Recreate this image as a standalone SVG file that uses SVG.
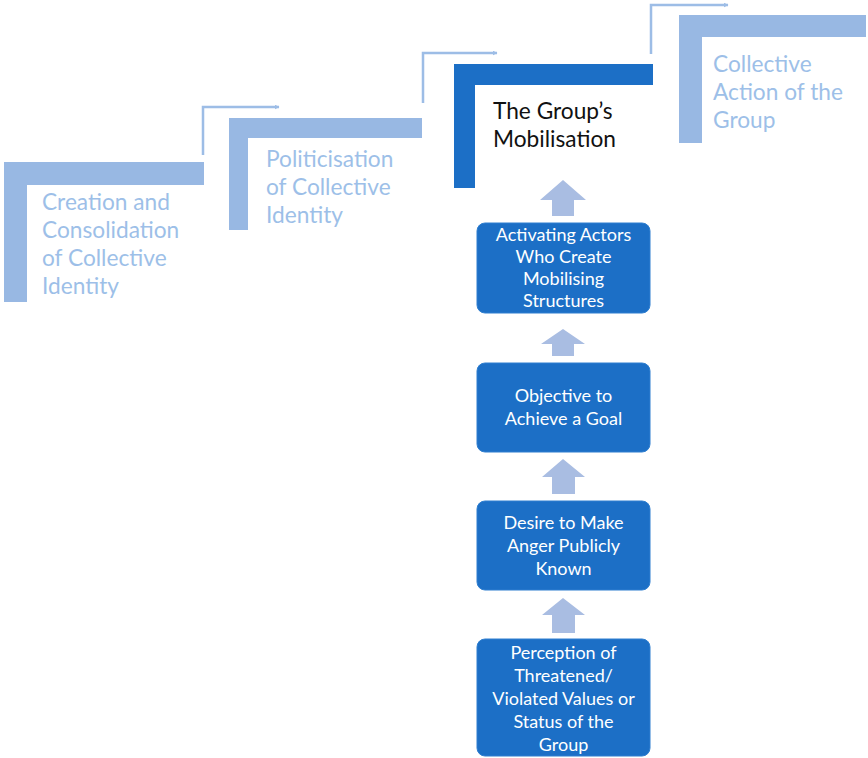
<svg xmlns="http://www.w3.org/2000/svg" width="868" height="758" viewBox="0 0 868 758">
  <defs>
    <marker id="head" viewBox="0 0 10 10" refX="9" refY="5" markerWidth="5" markerHeight="5" markerUnits="userSpaceOnUse" orient="auto">
      <path d="M0,0 L10,5 L0,10 Z" fill="#9dbde6"/>
    </marker>
  </defs>
  <style>
    .step { fill: #98b8e3; }
    .stepDark { fill: #1c6fc6; }
    .stepText { font-family: Lato, "Liberation Sans", sans-serif; font-size: 22.7px; fill: #9dbfe8; }
    .darkText { font-family: Lato, "Liberation Sans", sans-serif; font-size: 22.7px; fill: #111111; }
    .box { fill: #1c6fc6; stroke: #2f7fd0; stroke-width: 1; }
    .boxText { font-family: Lato, "Liberation Sans", sans-serif; font-size: 18px; fill: #ffffff; text-anchor: middle; }
    .link { fill: none; stroke: #9dbde6; stroke-width: 2.5; marker-end: url(#head); }
    .up { fill: #a9bde2; }
  </style>
  <rect width="868" height="758" fill="#ffffff"/>

  <!-- stair steps -->
  <g id="step-creation">
    <path class="step" d="M4,162 H204 V185 H27 V302 H4 Z"/>
    <text class="stepText" x="42" y="210">Creation and</text>
    <text class="stepText" x="42" y="238">Consolidation</text>
    <text class="stepText" x="42" y="266">of Collective</text>
    <text class="stepText" x="42" y="294">Identity</text>
  </g>
  <g id="step-politicisation">
    <path class="step" d="M229,118 H422 V138 H248 V230 H229 Z"/>
    <text class="stepText" x="266" y="167">Politicisation</text>
    <text class="stepText" x="266" y="195">of Collective</text>
    <text class="stepText" x="266" y="223">Identity</text>
  </g>
  <g id="step-mobilisation">
    <path class="stepDark" d="M454,64 H653 V85 H475 V188 H454 Z"/>
    <text class="darkText" x="493" y="119">The Group’s</text>
    <text class="darkText" x="493" y="147">Mobilisation</text>
  </g>
  <g id="step-action">
    <path class="step" d="M679,15 H866 V37 H702 V143 H679 Z"/>
    <text class="stepText" x="713" y="72">Collective</text>
    <text class="stepText" x="713" y="100">Action of the</text>
    <text class="stepText" x="713" y="128">Group</text>
  </g>

  <!-- process boxes -->
  <g id="box-activating">
    <rect class="box" x="477" y="223" width="173" height="90" rx="8"/>
    <text class="boxText" x="563.5" y="241">Activating Actors</text>
    <text class="boxText" x="563.5" y="263">Who Create</text>
    <text class="boxText" x="563.5" y="285">Mobilising</text>
    <text class="boxText" x="563.5" y="307">Structures</text>
  </g>
  <g id="box-objective">
    <rect class="box" x="477" y="363" width="173" height="89" rx="8"/>
    <text class="boxText" x="563.5" y="402">Objective to</text>
    <text class="boxText" x="563.5" y="425">Achieve a Goal</text>
  </g>
  <g id="box-desire">
    <rect class="box" x="477" y="501" width="173" height="89" rx="8"/>
    <text class="boxText" x="563.5" y="529">Desire to Make</text>
    <text class="boxText" x="563.5" y="552">Anger Publicly</text>
    <text class="boxText" x="563.5" y="575">Known</text>
  </g>
  <g id="box-perception">
    <rect class="box" x="477" y="639" width="173" height="117" rx="8"/>
    <text class="boxText" x="563.5" y="659">Perception of</text>
    <text class="boxText" x="563.5" y="682">Threatened/</text>
    <text class="boxText" x="563.5" y="705">Violated Values or</text>
    <text class="boxText" x="563.5" y="728">Status of the</text>
    <text class="boxText" x="563.5" y="751">Group</text>
  </g>

  <!-- connectors -->
  <g id="connectors">
    <polyline class="link" points="203,155 203,107 279,107"/>
    <polyline class="link" points="423,103 423,53 497,53"/>
    <polyline class="link" points="651,54 651,5 728,5"/>
    <path class="up" d="M563,180 L586,200 L574,200 L574,216 L552,216 L552,200 L540,200 Z"/>
    <path class="up" d="M563,329 L585,344 L574,344 L574,356 L552,356 L552,344 L541,344 Z"/>
    <path class="up" d="M563,459 L585,477 L575,477 L575,494 L552,494 L552,477 L542,477 Z"/>
    <path class="up" d="M563,598 L585,615 L575,615 L575,633 L552,633 L552,615 L542,615 Z"/>
  </g>
</svg>
